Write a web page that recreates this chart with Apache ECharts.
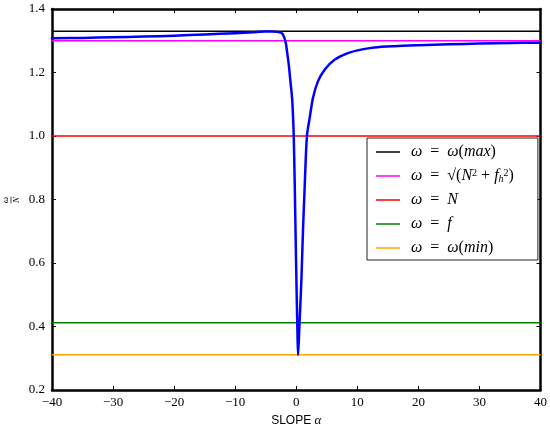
<!DOCTYPE html>
<html>
<head>
<meta charset="utf-8">
<script src="https://cdn.jsdelivr.net/npm/echarts@6/dist/echarts.min.js"></script>
<style>html,body{margin:0;padding:0;background:#fff}#c{width:550px;height:434px}</style>
</head>
<body>
<div id="c"></div>
<script>
// Blue curve: omega/N versus slope alpha
const alpha = [-40, -35, -30, -25, -20, -15, -10, -7, -5, -4, -3.1, -2.3, -1.76, -1.5, -1.22, -0.95, -0.68, -0.5, -0.4, -0.25, -0.1, 0.05, 0.2, 0.3, 0.45, 0.65, 0.85, 1.1, 1.4, 1.75, 2.2, 2.74, 3.55, 4.65, 6.27, 8.44, 10.6, 12.8, 16, 20, 25, 30, 35, 40];
const omegaRatio = [1.308, 1.309, 1.311, 1.313, 1.316, 1.320, 1.324, 1.327, 1.329, 1.3295, 1.328, 1.323, 1.297, 1.265, 1.224, 1.171, 1.119, 1.05, 0.99, 0.85, 0.68, 0.52, 0.38, 0.31, 0.37, 0.46, 0.55, 0.70, 0.85, 1.0, 1.057, 1.12, 1.172, 1.209, 1.24, 1.261, 1.272, 1.279, 1.283, 1.286, 1.289, 1.291, 1.293, 1.294];

// Horizontal reference levels
const levelNames = ['max', 'sqrt', 'N', 'f', 'min'];
const levelValues = [1.33, 1.30, 1.0, 0.412, 0.311];
const levelColors = ['#000000', '#ff00ff', '#ff0000', '#008000', '#ffa500'];

const xTicks = { min: -40, max: 40, interval: 10 };
const yTicks = { min: 0.2, max: 1.4, interval: 0.2 };

const legendText = {
  max: '{i|ω}  =  {i|ω}({i|max})',
  sqrt: '{i|ω}  =  √({i|N}{sup|2} + {i|f}{sub|h}{sup|2})',
  N: '{i|ω}  =  {i|N}',
  f: '{i|ω}  =  {i|f}',
  min: '{i|ω}  =  {i|ω}({i|min})'
};

const serif = 'Liberation Serif';
const chart = echarts.init(document.getElementById('c'), null, { renderer: 'canvas' });

const series = levelNames.map((n, i) => ({
  name: n,
  type: 'line',
  data: [[xTicks.min, levelValues[i]], [xTicks.max, levelValues[i]]],
  showSymbol: false,
  symbol: 'none',
  lineStyle: { color: levelColors[i], width: 1.5 },
  itemStyle: { color: levelColors[i] },
  z: 2,
  silent: true
}));
series.push({
  name: 'curve',
  type: 'line',
  data: alpha.map((a, i) => [a, omegaRatio[i]]),
  showSymbol: false,
  symbol: 'none',
  smooth: 0.3,
  lineStyle: { color: '#0000ff', width: 2.5, join: 'round', cap: 'round' },
  itemStyle: { color: '#0000ff' },
  z: 3,
  silent: true
});

const tickStyle = { show: true, inside: true, length: 4, lineStyle: { color: '#000', width: 1 } };
const lineStyle = { show: true, onZero: false, lineStyle: { color: '#000', width: 2.5 } };

chart.setOption({
  animation: false,
  backgroundColor: '#fff',
  grid: { left: 52, right: 7, top: 9, bottom: 44, containLabel: false },
  xAxis: [{
    type: 'value', min: xTicks.min, max: xTicks.max, interval: xTicks.interval,
    position: 'bottom',
    axisLine: lineStyle, axisTick: tickStyle, splitLine: { show: false },
    axisLabel: {
      margin: 6, color: '#000', fontFamily: serif, fontSize: 13,
      formatter: v => v < 0 ? '−' + (-v) : String(v)
    },
    name: '{s|SLOPE} {a|α}', nameLocation: 'middle', nameGap: 23,
    nameTextStyle: {
      rich: {
        s: { fontFamily: 'Liberation Sans', fontSize: 12, color: '#000' },
        a: { fontFamily: serif, fontStyle: 'italic', fontSize: 13, color: '#000' }
      }
    }
  }, {
    type: 'value', min: xTicks.min, max: xTicks.max, interval: xTicks.interval,
    position: 'top',
    axisLine: lineStyle, axisTick: tickStyle, splitLine: { show: false },
    axisLabel: { show: false }
  }],
  yAxis: [{
    type: 'value', min: yTicks.min, max: yTicks.max, interval: yTicks.interval,
    position: 'left',
    axisLine: lineStyle, axisTick: tickStyle, splitLine: { show: false },
    axisLabel: {
      margin: 7, color: '#000', fontFamily: serif, fontSize: 13,
      formatter: v => v.toFixed(1)
    }
  }, {
    type: 'value', min: yTicks.min, max: yTicks.max, interval: yTicks.interval,
    position: 'right',
    axisLine: lineStyle, axisTick: tickStyle, splitLine: { show: false },
    axisLabel: { show: false }
  }],
  legend: {
    data: levelNames,
    orient: 'vertical',
    left: 367, top: 138,
    padding: [6, 24, 4, 9],
    itemGap: 8,
    itemWidth: 24, itemHeight: 16,
    backgroundColor: '#fff',
    borderColor: '#222', borderWidth: 1,
    selectedMode: false,
    icon: 'path://M0,0 L24,0 L24,1.5 L0,1.5 Z',
    formatter: n => legendText[n],
    textStyle: {
      padding: [0, 0, 0, 6],
      color: '#000', fontFamily: serif, fontSize: 16, lineHeight: 16,
      rich: {
        i: { fontFamily: serif, fontStyle: 'italic', fontSize: 16, color: '#000', lineHeight: 16 },
        sup: { fontFamily: serif, fontSize: 10, color: '#000', verticalAlign: 'top', lineHeight: 16, padding: [0, 0, 6, 0] },
        sub: { fontFamily: serif, fontStyle: 'italic', fontSize: 10, color: '#000', verticalAlign: 'bottom', lineHeight: 16 }
      }
    }
  },
  graphic: [{
    type: 'group',
    x: 11, y: 200,
    rotation: Math.PI / 2,
    children: [
      { type: 'text', style: { text: 'ω', x: 0, y: -1, align: 'center', verticalAlign: 'bottom', fontFamily: serif, fontStyle: 'italic', fontSize: 9, fill: '#000' } },
      { type: 'line', shape: { x1: -3.5, y1: 0, x2: 3.5, y2: 0 }, style: { stroke: '#000', lineWidth: 0.7 } },
      { type: 'text', style: { text: 'N', x: 0, y: 1, align: 'center', verticalAlign: 'top', fontFamily: serif, fontStyle: 'italic', fontSize: 9, fill: '#000' } }
    ]
  }],
  series: series
});
</script>
</body>
</html>
